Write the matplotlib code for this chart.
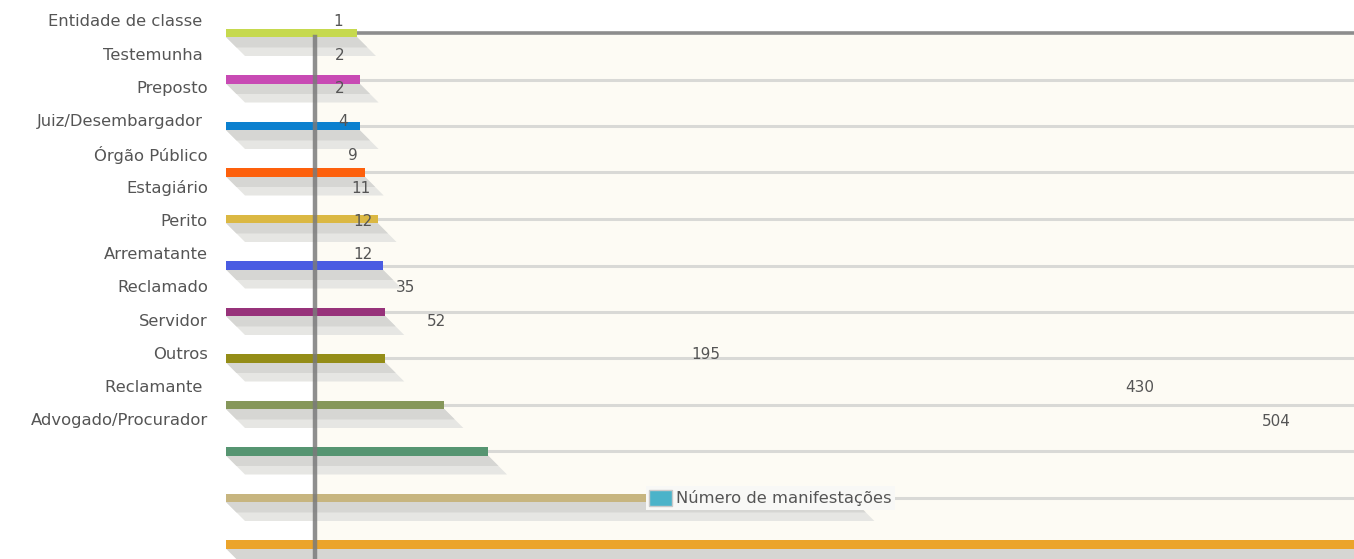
import matplotlib
matplotlib.use("Agg")
import matplotlib.pyplot as plt
from matplotlib.patches import Polygon, Patch

# ---------------- data ----------------
categories = ["Entidade de classe ", "Testemunha ", "Preposto", "Juiz/Desembargador ",
              "Órgão Público", "Estagiário", "Perito", "Arrematante", "Reclamado",
              "Servidor", "Outros", "Reclamante ", "Advogado/Procurador"]
values = [1, 2, 2, 4, 9, 11, 12, 12, 35, 52, 195, 430, 504]
bar_colors = ["#c6d94e", "#c84ab4", "#0b80cf", "#fd600c", "#dbb843", "#4a5ce2",
              "#97327a", "#948d17", "#86975a", "#569571", "#c7b57f", "#eba42b", "#6aa6c8"]
series_name = "Número de manifestações"
legend_color = "#4bb3c9"

# ---------------- layout constants (pixels) ----------------
W, H = 1354, 559
BAR_X0 = 226          # where every bar starts
BAR_ZERO = 354.4      # pixel of value 0 for bar lengths
BAR_SCALE = 2.569     # pixels per unit
BAR_Y0, BAR_DY = 33, 46.5
LAB_ZERO, LAB_SCALE = 331.2, 1.847
LAB_Y0, LAB_DY = 22, 33.25
PLOT_LEFT = 315
SH_DX, SH_TOP, SH_H = 19, 4, 19   # shadow skew / offsets in px
TEXT_COLOR = "#555555"
FS_CAT = 11.8
FS_VAL = 11.0

fig = plt.figure(figsize=(W / 100, H / 100), dpi=100)
fig.patch.set_facecolor("white")

# ---------------- plot area (background, grid, spines) ----------------
pa = fig.add_axes([PLOT_LEFT / W, 0, (W - PLOT_LEFT) / W, (H - BAR_Y0) / H])
pa.set_facecolor("#fdfbf4")
pa.set_xticks([])
pa.set_yticks(range(1, 12))
pa.set_xlim(0, 1)
pa.set_ylim((H - BAR_Y0) / BAR_DY, 0)
pa.tick_params(left=False, labelleft=False)
pa.grid(axis="y", color="#d9d9d6", linewidth=2.2)
pa.set_axisbelow(True)
for s in ["right", "bottom", "left"]:
    pa.spines[s].set_visible(False)
pa.spines["top"].set_color("#8d8d8d")
pa.spines["top"].set_linewidth(2.6)
pa.set_zorder(0)

# ---------------- bars with skewed shadows ----------------
ax = fig.add_axes([0, 0, 1, 1])
ax.set_zorder(1)
ax.patch.set_alpha(0)
ax.set_xlim(-BAR_ZERO / BAR_SCALE, (W - BAR_ZERO) / BAR_SCALE)
ax.set_ylim((H - BAR_Y0) / BAR_DY, -BAR_Y0 / BAR_DY)
ax.axis("off")

start = (BAR_X0 - BAR_ZERO) / BAR_SCALE
dx = SH_DX / BAR_SCALE
t0 = SH_TOP / BAR_DY
t1 = (SH_TOP + SH_H) / BAR_DY
bar_h = 8.5 / BAR_DY
for i, (v, c) in enumerate(zip(values, bar_colors)):
    for k, (col, frac) in enumerate([("#e6e6e3", 1.0), ("#d6d6d3", 0.55)]):
        tb = t0 + (t1 - t0) * frac
        dd = dx * frac
        poly = Polygon([(start, i + t0), (v, i + t0), (v + dd, i + tb), (start + dd, i + tb)],
                       closed=True, facecolor=col, edgecolor="none", zorder=1 + k)
        ax.add_patch(poly)
ax.barh(range(len(values)), [v - start for v in values], left=start, height=bar_h,
        color=bar_colors, zorder=3)
# vertical axis line drawn over bars
ax.axvline((PLOT_LEFT - BAR_ZERO) / BAR_SCALE, ymin=0, ymax=(H - BAR_Y0 - 4) / H,
           color="#7b7b7b", linewidth=3.2, alpha=0.85, zorder=4)

# ---------------- labels ----------------
lx = fig.add_axes([0, 0, 1, 1])
lx.set_zorder(2)
lx.patch.set_alpha(0)
lx.set_xlim(-LAB_ZERO / LAB_SCALE, (W - LAB_ZERO) / LAB_SCALE)
lx.set_ylim((H - LAB_Y0) / LAB_DY, -LAB_Y0 / LAB_DY)
lx.axis("off")
ytr = lx.get_yaxis_transform()
for j, (cat, v) in enumerate(zip(categories, values)):
    lx.text(208 / W, j, cat, transform=ytr, ha="right", va="center",
            fontsize=FS_CAT, color=TEXT_COLOR, family="DejaVu Sans")
    lx.text(v, j, str(v), ha="left", va="center", fontsize=FS_VAL, color=TEXT_COLOR,
            family="DejaVu Sans")

# ---------------- legend ----------------
leg = lx.legend(handles=[Patch(facecolor=legend_color, edgecolor="#c9c9c9", linewidth=1)],
                labels=[series_name], loc="center left",
                bbox_to_anchor=(646 / W, 1 - 498 / H), bbox_transform=fig.transFigure,
                frameon=True, fancybox=False, borderpad=0.2, borderaxespad=0,
                handletextpad=0.25, handlelength=1.4, handleheight=1.2,
                prop={"family": "DejaVu Sans", "size": FS_CAT})
leg.get_frame().set_facecolor("#f8f8f6")
leg.get_frame().set_edgecolor("none")
leg.get_frame().set_alpha(1)
for t in leg.get_texts():
    t.set_color("#555555")

fig.savefig("out.png", dpi=100)
